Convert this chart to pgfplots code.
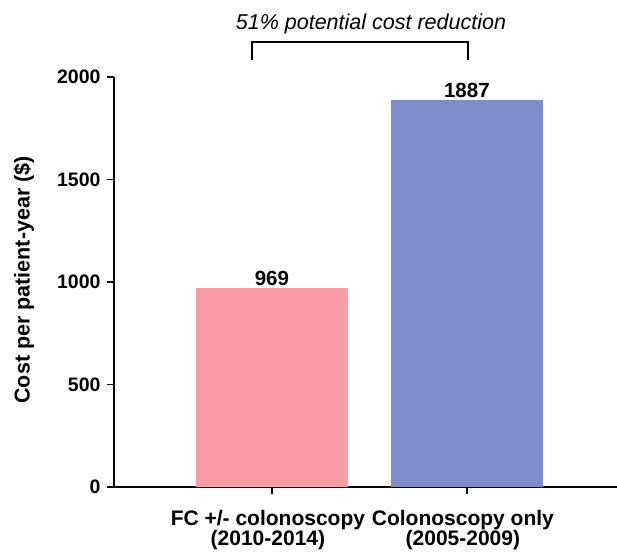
\documentclass[border=0pt]{standalone}
\usepackage{pgfplots}
\pgfplotsset{compat=1.18}
\usepackage{fontspec}
\setmainfont{Liberation Sans}
\definecolor{fcpink}{RGB}{249,156,165}
\definecolor{colblue}{RGB}{124,141,201}
\newcommand{\lbl}{\fontsize{21}{20}\selectfont\bfseries}
\newcommand{\tck}{\fontsize{19.5}{21}\selectfont\bfseries}
\begin{document}
\begin{tikzpicture}
\begin{axis}[
  name=ax,
  scale only axis,
  width=503pt, height=410pt,
  xmin=-0.81, xmax=1.77,
  ymin=0, ymax=2000,
  axis lines=left,
  axis line style={line width=1.6pt, -},
  xtick={0,1},
  xticklabels={{FC +/- colonoscopy\\(2010-2014)},{Colonoscopy only\\(2005-2009)}},
  xticklabel style={align=center, font=\lbl, yshift=-13pt, xshift=-4pt},
  ytick={0,500,...,2000},
  yticklabel style={font=\tck, xshift=-3pt},
  tick style={line width=1.6pt, black},
  tick align=outside,
  major tick length=7pt,
  ylabel={Cost per patient-year (\$)},
  ylabel style={font=\fontsize{21.5}{21}\selectfont\bfseries, at={(axis description cs:-0.179,0.505)}, anchor=center},
  ybar, bar width=152pt, bar shift=0pt,
  nodes near coords,
  nodes near coords style={font=\fontsize{20.5}{21}\selectfont\bfseries, text=black, inner sep=2pt},
  clip=false,
  /pgf/number format/assume math mode=true,
  /pgf/number format/1000 sep={},
]
\addplot[draw=none, fill=fcpink] coordinates {(0,969)};
\addplot[draw=none, fill=colblue] coordinates {(1,1887)};
\draw[line width=1.6pt] (axis cs:-0.103,2083) -- (axis cs:-0.103,2171)
  -- (axis cs:1.005,2171) -- (axis cs:1.005,2083);
\node[font=\fontsize{21.5}{21}\selectfont\itshape, anchor=base]
  at (axis cs:0.508,2234) {51\% potential cost reduction};
\end{axis}
\pgfresetboundingbox
\path ([xshift=-114pt,yshift=-68pt]ax.south west) rectangle ([yshift=77pt]ax.north east);
\end{tikzpicture}
\end{document}
